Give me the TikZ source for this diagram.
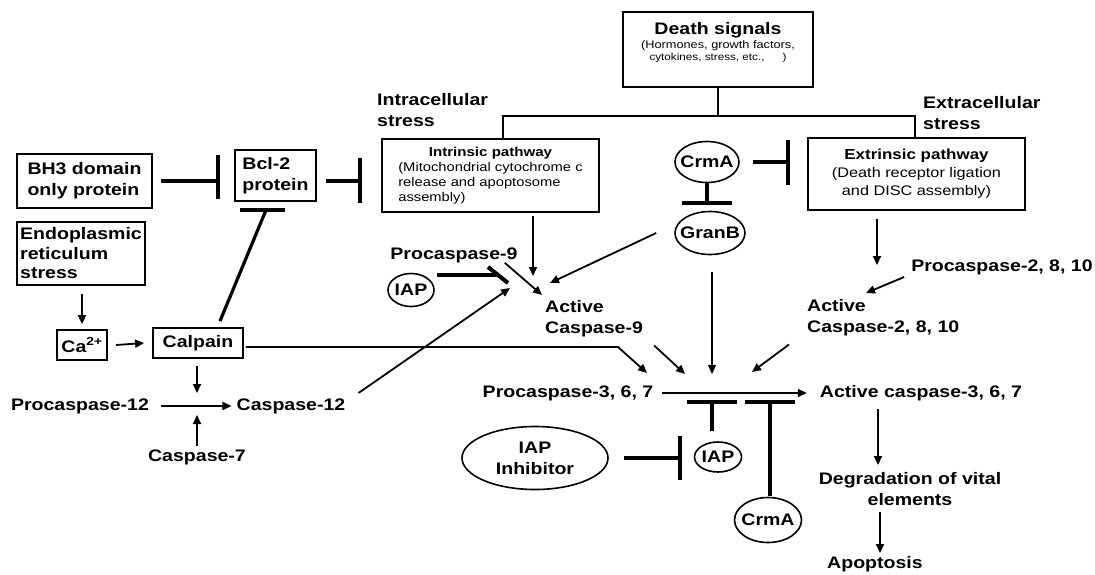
\documentclass[tikz,border=0pt]{standalone}
\usepackage{fontspec}
\setmainfont{Liberation Sans}[FakeStretch=1.17]
\usetikzlibrary{arrows.meta,shapes.geometric}
\tikzset{
  lbl/.style={font=\bfseries\fontsize{16.7}{21}\selectfont, inner sep=0pt, align=left},
  lblc/.style={lbl, align=center},
  box/.style={draw, line width=1.8pt, inner sep=0pt},
  ell/.style={draw, ellipse, line width=1.6pt, inner sep=0pt},
  arr/.style={line width=1.8pt, -{Triangle[length=9pt,width=8pt]}},
  ln/.style={line width=1.8pt},
  inh/.style={line width=3.2pt},
  ibar/.style={line width=4pt},
}
\begin{document}
\begin{tikzpicture}[x=1pt,y=-1pt]
\useasboundingbox (0,0) rectangle (1095,574);

% ---------- nodes ----------
\node[box, minimum width=190pt, minimum height=75pt] (death) at (718,49.5) {};
\node[align=center, inner sep=0pt] (deathtxt) at (718,42)
  {\bfseries\fontsize{16.7}{20}\selectfont Death signals\\[2pt]
   \mdseries\fontsize{10.9}{13}\selectfont (Hormones, growth factors,\\
   cytokines, stress, etc.,\hspace{1.8em})};

\node[lbl, anchor=west] (intra) at (377,110) {Intracellular\\stress};
\node[lbl, anchor=west] (extra) at (923,113) {Extracellular\\stress};

\node[box, minimum width=217pt, minimum height=73pt, font=\fontsize{12.6}{15}\selectfont] (intr) at (490.5,175.5)
  {\begin{tabular}{@{}l@{}}\multicolumn{1}{@{}c@{}}{\bfseries\fontsize{12.9}{15}\selectfont Intrinsic pathway\hspace{12pt}}\\
   (Mitochondrial cytochrome c\\ release and apoptosome\\ assembly)\end{tabular}};

\node[box, minimum width=217pt, minimum height=72pt, font=\fontsize{13.9}{18}\selectfont] (extr) at (916.5,174)
  {\begin{tabular}{@{}c@{}}{\bfseries\fontsize{14.5}{18}\selectfont Extrinsic pathway}\\
   (Death receptor ligation\\ and DISC assembly)\end{tabular}};

\node[ell, minimum width=64pt, minimum height=41pt, label={[lbl]center:CrmA}] (crma) at (707,162) {};
\node[ell, minimum width=70pt, minimum height=43pt, label={[lbl]center:GranB}] (granb) at (710,233) {};

\node[box, lbl, minimum width=135pt, minimum height=54pt] (bh3) at (84.5,181) {BH3 domain\\only protein};
\node[box, lbl, minimum width=81pt, minimum height=51pt] (bcl) at (275.5,175.5) {Bcl-2\\protein};
\node[box, lbl, minimum width=128pt, minimum height=63pt, font=\bfseries\fontsize{16.7}{19.5}\selectfont] (er) at (81,253.5) {Endoplasmic\\reticulum\\stress};
\node[box, lbl, minimum width=50pt, minimum height=30pt] (ca) at (82,345) {Ca\textsuperscript{2+}};
\node[box, lbl, minimum width=90pt, minimum height=30pt] (calpain) at (198,343) {Calpain};

\node[lbl] (pc12) at (80,406) {Procaspase-12};
\node[lbl] (c12) at (291,406) {Caspase-12};
\node[lbl] (c7) at (197,457) {Caspase-7};

\node[lbl] (pc9) at (454,255) {Procaspase-9};
\node[ell, minimum width=46pt, minimum height=33pt, label={[lbl]center:IAP}] (iap1) at (411,290) {};
\node[lbl, anchor=west] (ac9) at (545,319) {Active\\Caspase-9};

\node[lbl] (pc2) at (1002,267) {Procaspase-2, 8, 10};
\node[lbl, anchor=west] (ac2) at (807,318) {Active\\Caspase-2, 8, 10};

\node[lbl] (pc3) at (568,393) {Procaspase-3, 6, 7};
\node[lbl] (ac3) at (921,393) {Active caspase-3, 6, 7};
\node[lblc] (deg) at (910,489) {Degradation of vital\\elements};
\node[lbl] (apo) at (875,564) {Apoptosis};

\node[ell, minimum width=146pt, minimum height=63pt, label={[lblc]center:{IAP\\Inhibitor}}] (iapi) at (535,458) {};
\node[ell, minimum width=47pt, minimum height=30pt, label={[lbl]center:IAP}] (iap2) at (718,457) {};
\node[ell, minimum width=67pt, minimum height=45pt, label={[lbl]center:CrmA}] (crma2) at (768,520) {};

% ---------- coordinates ----------
\coordinate (tl) at (503,116);
\coordinate (tr) at (915,116);
\coordinate (b1) at (218,177);
\coordinate (b2) at (360,181);
\coordinate (b3) at (266,210);
\coordinate (b4) at (498,275);
\coordinate (b5) at (712,402);
\coordinate (b6) at (770,402);
\coordinate (b7) at (680,458);
\coordinate (b8) at (707,203);
\coordinate (b9) at (788,162);
\coordinate (j12) at (197,406);
\coordinate (j9) at (510,288);
\coordinate (k1) at (618,347);
\coordinate (k2) at (647,373);
\coordinate (k3) at (542,295);
\coordinate (k4) at (533,276);
\coordinate (k5) at (550,283);
\coordinate (k6) at (685,374);
\coordinate (k7) at (712,374);
\coordinate (k8) at (752,372);
\coordinate (k9) at (877,265);
\coordinate (k10) at (866,293);
\coordinate (k11) at (878,465);
\coordinate (k12) at (880,553);

% ---------- connectors ----------
% death signal tree
\draw[ln] (death.south) -- (death.south |- tl);
\draw[ln] (intr.north -| tl) -- (tl) -- (tr) -- (extr.north -| tr);

% inhibitions (left)
\draw[inh] (bh3.east) ++(8,0) -- (b1 |- bh3.east);
\draw[ibar] (b1) ++(0,-22) -- ++(0,44);
\draw[inh] (bcl.east |- b2) ++(9,0) -- (b2);
\draw[ibar] (b2) ++(0,-23) -- ++(0,45);
\draw[inh] (calpain.north) ++(22,-6) -- (b3);
\draw[ibar] (b3) ++(-26,0) -- ++(45,0);

% ER stress cascade
\draw[arr] (er.south) ++(1,8) -- ([yshift=5pt]ca.north);
\draw[arr] (ca.east) ++(8,0) -- ([xshift=-8pt]calpain.west);
\draw[arr] (calpain.south) ++(-1,7) -- ([yshift=13pt]j12);
\draw[arr] (pc12.east) ++(12,0) -- ([xshift=-5pt]c12.west);
\draw[arr] (c7.north) ++(0,-3) -- ([yshift=-9pt]j12);
\draw[arr] (c12.east) ++(13,-13) -- (j9);
\draw[arr] (calpain.east) ++(2,4) -- (k1) -- (k2);

% caspase-9 activation
\draw[arr] (pc9.south east) ++(-13,0) -- (k3);
\draw[inh] (iap1.east) ++(2,-15) -- (b4);
\draw[ibar] (b4) ++(-10,-8) -- ++(20,16);
\draw[arr] (k4 |- intr.south) ++(0,3) -- (k4);
\draw[arr] (granb.west) ++(-18,0) -- (k5);
\draw[arr] (ac9.south east) ++(11,8) -- (k6);

% CrmA / GranB
\draw[inh] (crma.south) -- (b8);
\draw[ibar] (b8) ++(-25,0) -- ++(50,0);
\draw[inh] (crma.east) ++(13,0) -- (b9);
\draw[ibar] (b9) ++(0,-22) -- ++(0,45);
\draw[arr] (granb.south -| k7) ++(0,17) -- (k7);

% extrinsic
\draw[arr] (k9 |- extr.south) ++(0,8) -- (k9);
\draw[arr] (pc2.west) ++(-7,10) -- (k10);
\draw[arr] (ac2.south west) ++(-18,8) -- (k8);

% executioner caspases
\draw[arr] (pc3.east) ++(9,0) -- ([xshift=-13pt]ac3.west);
\draw[inh] (iap2.north -| b5) ++(0,-10) -- (b5);
\draw[ibar] (b5) ++(-25,0) -- ++(50,0);
\draw[inh] (crma2.north -| b6) ++(0,-1) -- (b6);
\draw[ibar] (b6) ++(-25,0) -- ++(50,0);
\draw[inh] (iapi.east) ++(15,0) -- (b7);
\draw[ibar] (b7) ++(0,-22) -- ++(0,44);

\draw[arr] (k11 |- ac3.south) ++(0,8) -- (k11);
\draw[arr] (k12 |- deg.south) ++(0,6) -- (k12);
\end{tikzpicture}
\end{document}
